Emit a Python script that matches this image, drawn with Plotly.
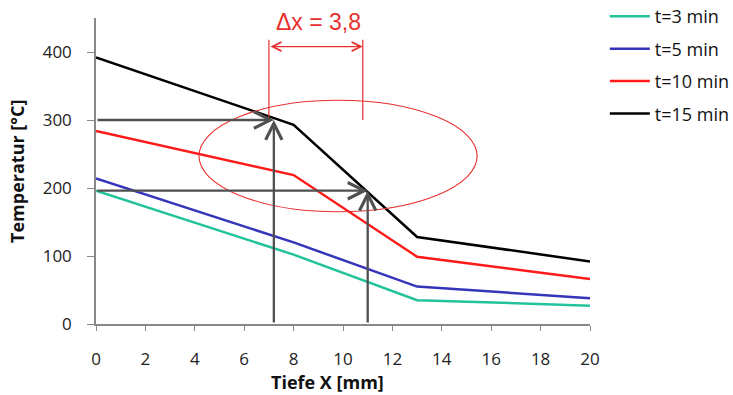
import plotly.graph_objects as go

# Temperature profiles over depth for several heating times
depth_mm = [0, 8, 13, 20]
series_names = ["t=3 min", "t=5 min", "t=10 min", "t=15 min"]
temp_t3 = [196, 102, 35, 27]
temp_t5 = [214, 120, 55, 38]
temp_t10 = [284, 219, 99, 66]
temp_t15 = [392, 293, 128, 92]
series_colors = ["#22c39a", "#3535bb", "#ff1a1a", "#000000"]

# Reading lines at two temperature levels and the resulting depth offset
level_hi, level_lo = 300, 196
x_hi, x_lo = 7.2, 11.0
delta_x = 3.8
delta_label = "Δx = 3,8"

x_ticks = list(range(0, 21, 2))
y_ticks = [0, 100, 200, 300, 400]

font_family = "Open Sans, Liberation Sans, sans-serif"

fig = go.Figure()
for i, (name, vals, col) in enumerate(zip(series_names,
                                          [temp_t3, temp_t5, temp_t10, temp_t15],
                                          series_colors)):
    fig.add_trace(go.Scatter(
        x=depth_mm, y=vals, mode="lines", name=name,
        line=dict(color=col, width=2.5), legendgroup=f"g{i}",
    ))

gray = "#505050"
red = "#e8302e"

# gray reading lines with arrowheads pointing at the curve
for xv, yv in [(x_hi, level_hi), (x_lo, level_lo)]:
    fig.add_annotation(x=xv, y=yv, ax=0, ay=yv, xref="x", yref="y",
                       axref="x", ayref="y", text="", showarrow=True,
                       arrowhead=5, arrowsize=1.4, arrowwidth=2.3,
                       arrowcolor=gray, standoff=0)
    fig.add_annotation(x=xv, y=yv, ax=xv, ay=0, xref="x", yref="y",
                       axref="x", ayref="y", text="", showarrow=True,
                       arrowhead=5, arrowsize=1.4, arrowwidth=2.3,
                       arrowcolor=gray, standoff=0)

# dimension for delta x
dim_left = 7.0
dim_right = dim_left + delta_x
fig.add_shape(type="line", x0=dim_left, x1=dim_left, y0=304, y1=418,
              line=dict(color=red, width=1.2))
fig.add_shape(type="line", x0=dim_right, x1=dim_right, y0=300, y1=418,
              line=dict(color=red, width=1.2))
fig.add_annotation(x=dim_right, y=408, ax=dim_left, ay=408, xref="x", yref="y",
                   axref="x", ayref="y", text="", showarrow=True,
                   arrowhead=5, startarrowhead=5, arrowside="end+start",
                   arrowsize=1.5, startarrowsize=1.5, arrowwidth=1.2,
                   arrowcolor=red, standoff=0, startstandoff=0)
fig.add_annotation(x=(dim_left + dim_right) / 2 + 0.1, y=444, xref="x", yref="y",
                   text=delta_label, showarrow=False,
                   font=dict(family="Liberation Sans, Arial, sans-serif",
                             size=23, color=red))

# highlighted region
fig.add_shape(type="circle", x0=4.17, x1=15.43, y0=165, y1=329,
              line=dict(color=red, width=1.1))

# axis titles
title_font = dict(family=font_family, size=18, weight="bold", color="#111111")
fig.add_annotation(text="Tiefe X [mm]", xref="paper", yref="paper",
                   x=0.468, y=-0.19, xanchor="center", yanchor="middle",
                   showarrow=False, font=title_font)
fig.add_annotation(text="Temperatur [°C]", xref="paper", yref="paper",
                   x=-0.16, y=0.5, xanchor="center", yanchor="middle",
                   textangle=-90, showarrow=False, font=title_font)

fig.update_layout(
    width=733, height=395,
    margin=dict(l=96, r=143, t=18, b=71, autoexpand=False),
    plot_bgcolor="white", paper_bgcolor="white",
    font=dict(family=font_family, size=17, color="#222222"),
    showlegend=True,
    legend=dict(x=1.03, y=1.065, xanchor="left", yanchor="top",
                font=dict(size=18, color="#111111"),
                tracegroupgap=6, itemwidth=40, bgcolor="rgba(0,0,0,0)"),
    xaxis=dict(range=[0, 20], tickvals=x_ticks, showgrid=False, zeroline=False,
               showline=True, linecolor="#888888", linewidth=1.5,
               ticks="outside", ticklen=5, tickcolor="#888888",
               ticklabelstandoff=14),
    yaxis=dict(range=[0, 450], tickvals=y_ticks, showgrid=False, zeroline=False,
               showline=True, linecolor="#888888", linewidth=1.5,
               ticks="outside", ticklen=7, tickcolor="#888888",
               ticklabelstandoff=12),
)

fig.write_html("out.html")
